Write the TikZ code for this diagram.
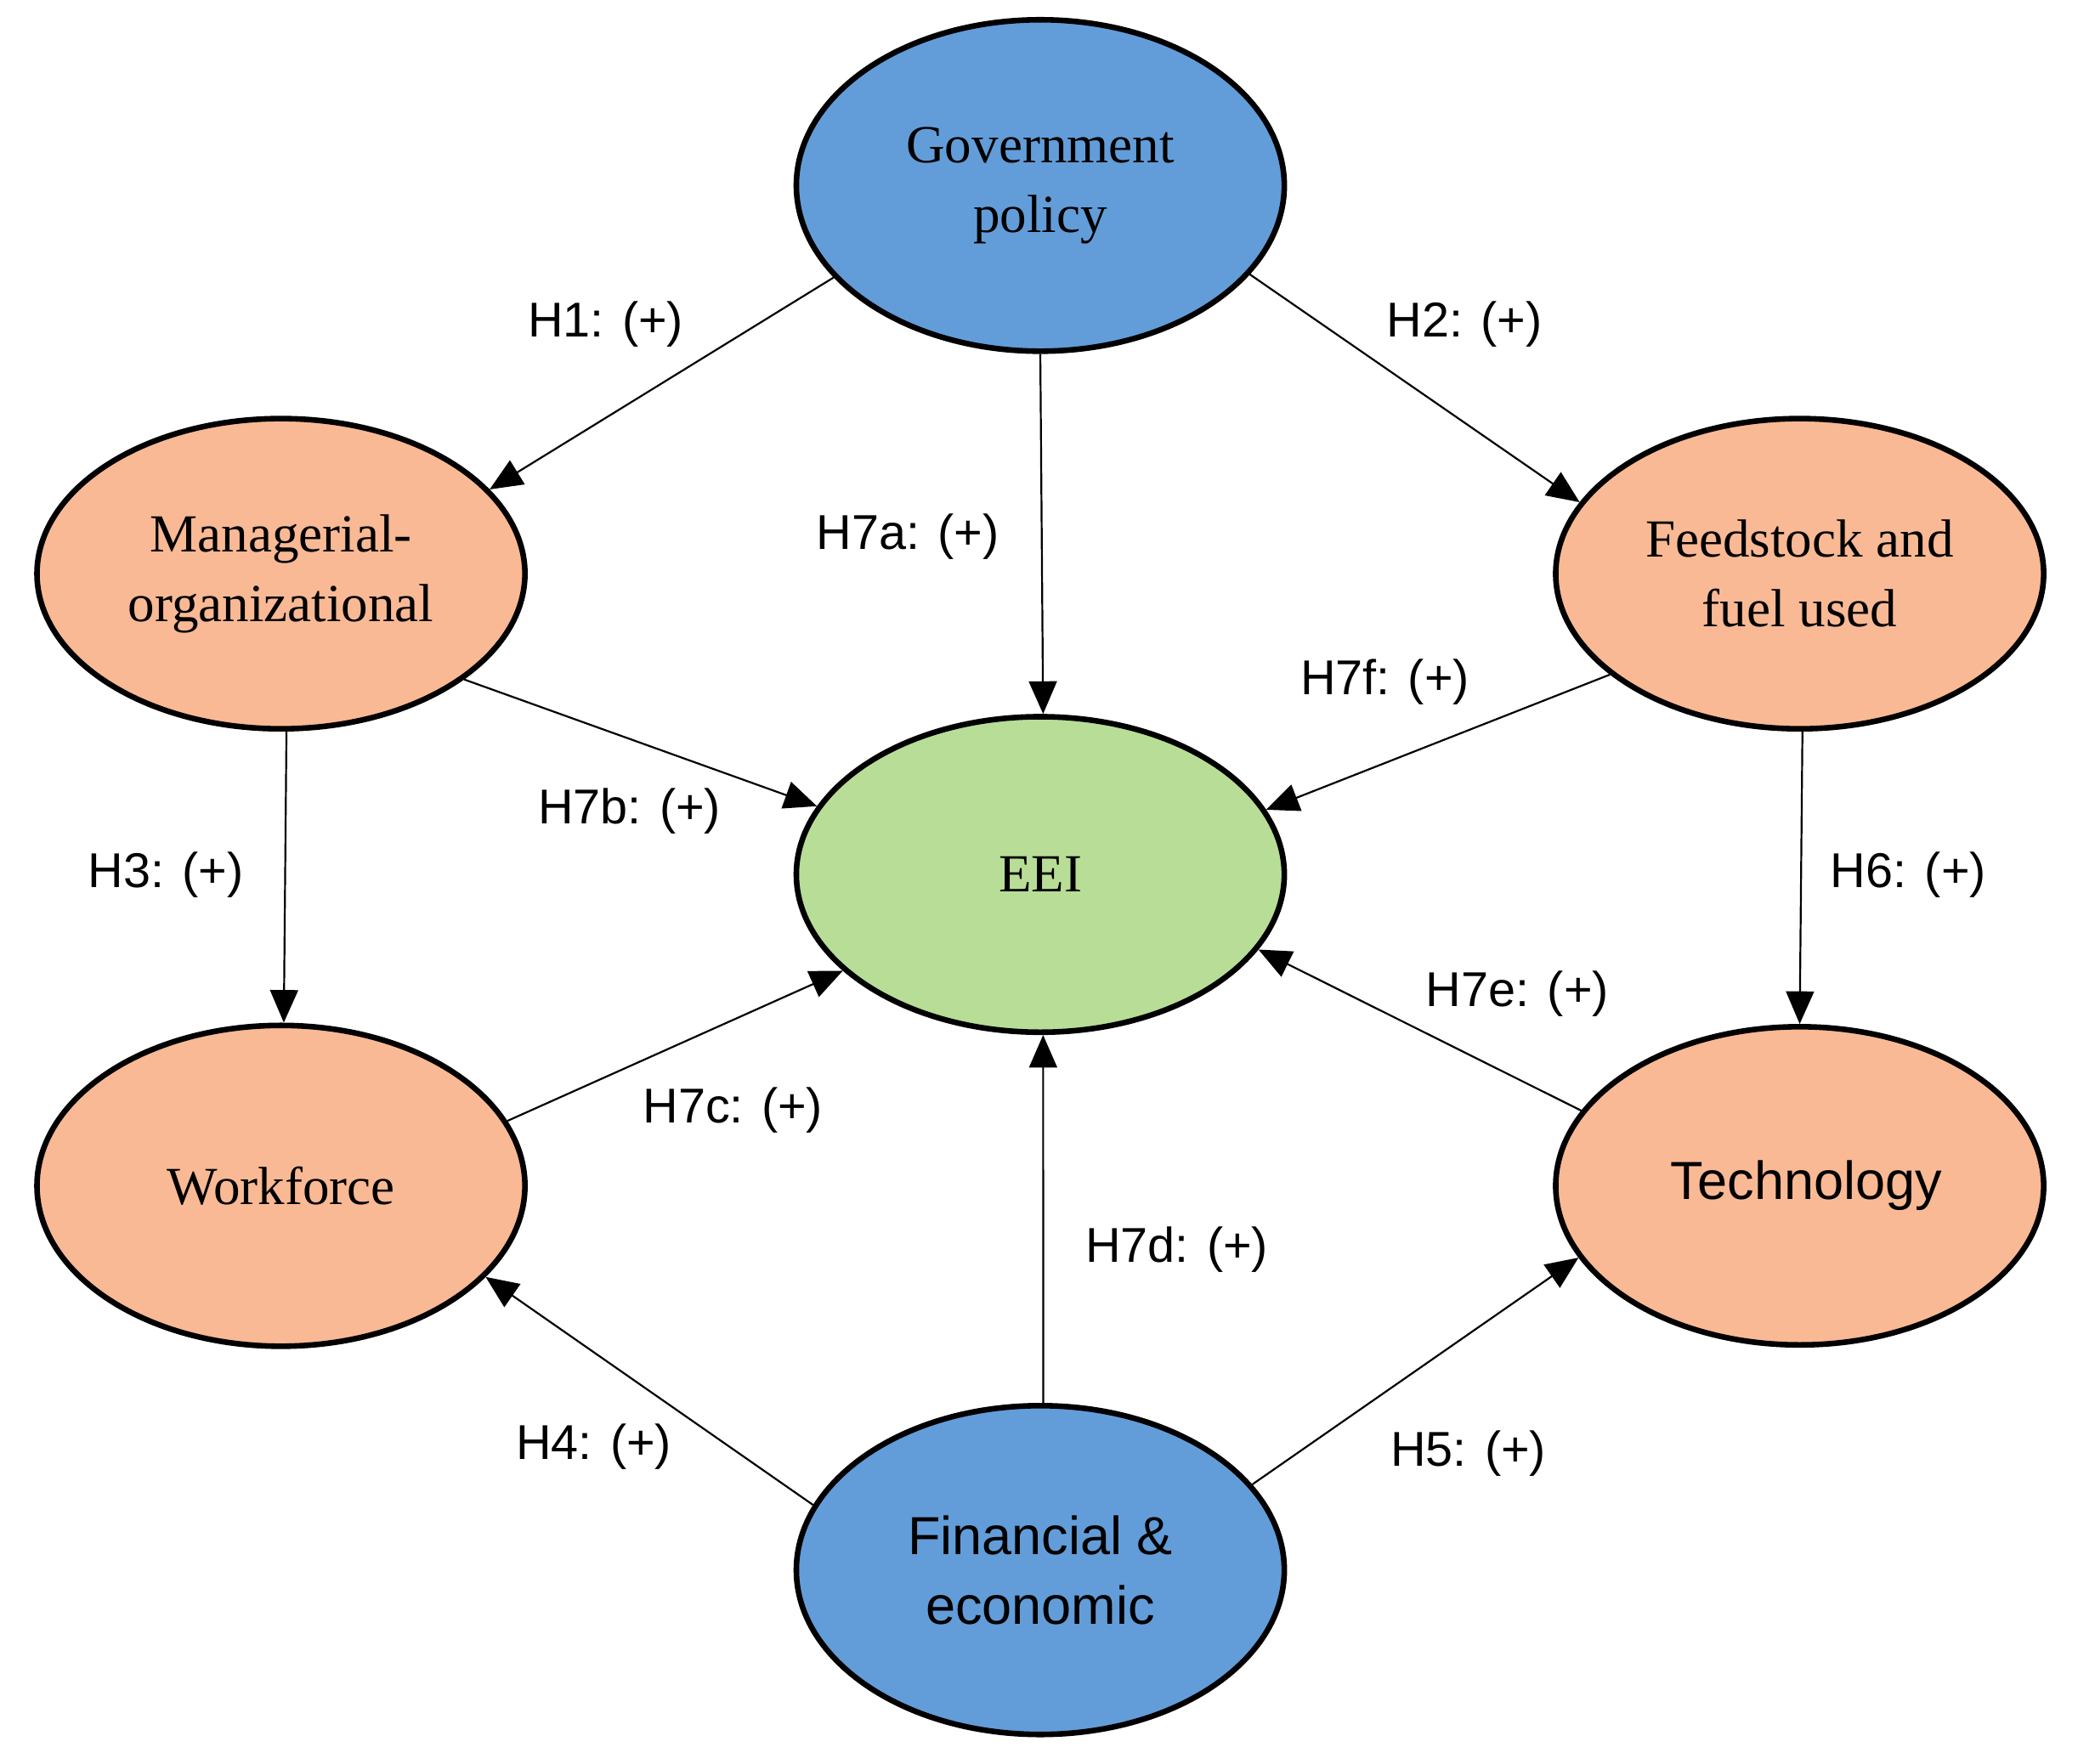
\documentclass[tikz,border=0pt]{standalone}
\usepackage{fontspec}
\setmainfont{Liberation Serif}
\newfontfamily\lsans{Liberation Sans}
\usetikzlibrary{shapes.geometric,arrows.meta}
\definecolor{cblue}{HTML}{629DD9}
\definecolor{corange}{HTML}{F8B994}
\definecolor{cgreen}{HTML}{B8DD97}
\begin{document}
\begin{tikzpicture}[x=0.01cm,y=-0.01cm,
  ell/.style={ellipse,draw,line width=1.2pt,inner sep=0pt,minimum width=3.68cm,minimum height=2.34cm,align=center,font=\fontsize{11.5}{15}\selectfont},
  sf/.style={font=\lsans\fontsize{11.5}{15}\selectfont},
  arr/.style={line width=0.4pt,-{Triangle[length=7pt,width=6pt]}},
  lab/.style={font=\lsans\fontsize{10.5}{13}\selectfont}]
\useasboundingbox (0,0) rectangle (1568,1331);
\node[ell,fill=cblue,minimum height=2.5cm] (gov) at (785,140) {Government\\policy};
\node[ell,fill=corange] (man) at (212,433) {Managerial-\\organizational};
\node[ell,fill=corange] (feed) at (1358,433) {Feedstock and\\fuel used};
\node[ell,fill=cgreen,minimum height=2.38cm] (eei) at (785,660) {EEI};
\node[ell,fill=corange,minimum height=2.42cm] (wf) at (212,895) {Workforce};
\node[ell,fill=corange,minimum height=2.4cm,sf] (tech) at (1358,895) {\hspace*{0.1cm}Technology};
\node[ell,fill=cblue,minimum height=2.48cm,sf] (fin) at (785,1185) {Financial \&\\economic};
\draw[arr] (gov.204.5) -- (man.22.8);
\draw[arr] (gov.-23) -- (feed.162);
\draw[arr] (gov.270) -- (eei.89);
\draw[arr] (man.-30.7) -- (eei.163);
\draw[arr] (feed.208) -- (eei.16);
\draw[arr] (man.272) -- (wf.89);
\draw[arr] (feed.271) -- (tech.90);
\draw[arr] (wf.16.6) -- (eei.206);
\draw[arr] (tech.161) -- (eei.-19);
\draw[arr] (fin.89) -- (eei.271);
\draw[arr] (fin.164) -- (wf.-24);
\draw[arr] (fin.22) -- (tech.198);
\node[lab] (l1) at (457,245) {H1: (+)};
\node[lab] (l2) at (1105,245) {H2: (+)};
\node[lab] (l7a) at (685,405) {H7a: (+)};
\node[lab] (l7f) at (1045,515) {H7f: (+)};
\node[lab] (l7b) at (475,612) {H7b: (+)};
\node[lab] (l3) at (125,660) {H3: (+)};
\node[lab] (l6) at (1440,660) {H6: (+)};
\node[lab] (l7e) at (1145,750) {H7e: (+)};
\node[lab] (l7c) at (553,838) {H7c: (+)};
\node[lab] (l7d) at (888,943) {H7d: (+)};
\node[lab] (l4) at (448,1092) {H4: (+)};
\node[lab] (l5) at (1108,1097) {H5: (+)};
\end{tikzpicture}
\end{document}
